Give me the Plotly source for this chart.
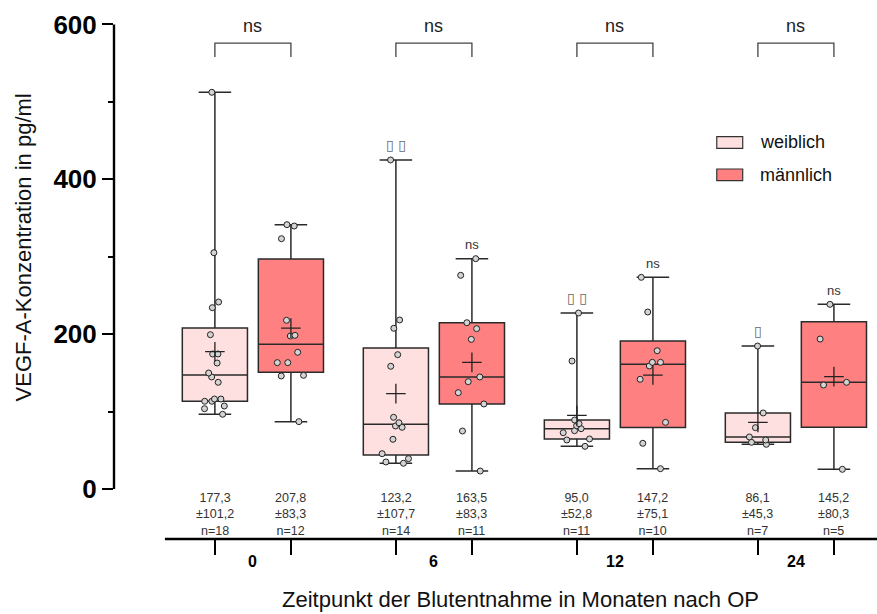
import numpy as np
import plotly.graph_objects as go

# ---------------- data ----------------
months = ["0", "6", "12", "24"]

f_m0 = [512.4, 305.2, 241.5, 234.2, 199.3, 174.4, 174.4, 162.7, 149.8, 144.7,
        137.8, 116.2, 116.2, 113.3, 113.3, 107.2, 103.7, 96.5]
m_m0 = [341.4, 339.7, 323.3, 217.9, 198.5, 197.6, 176.6, 163.2, 163.2, 146.8,
        146.0, 87.0]
f_m6 = [425.0, 218.3, 207.6, 173.5, 158.5, 92.6, 85.6, 81.4, 79.7, 64.2, 45.6,
        39.2, 34.9, 33.2]
m_m6 = [297.5, 276.0, 214.8, 207.1, 193.3, 144.7, 138.6, 124.4, 109.8, 74.9, 23.2]
f_m12 = [227.3, 165.3, 89.1, 84.4, 81.8, 77.9, 75.3, 72.7, 64.6, 63.3, 55.1]
m_m12 = [273.4, 228.6, 178.6, 163.6, 163.6, 158.9, 141.7, 86.1, 59.0, 26.2]
f_m24 = [184.7, 98.2, 79.2, 67.2, 63.3, 60.3, 57.7]
m_m24 = [238.5, 193.7, 137.8, 134.3, 25.4]

mean_f = [177.3, 123.2, 95.0, 86.1]
sd_f = [101.2, 107.7, 52.8, 45.3]
n_f = [18, 14, 11, 7]
mean_m = [207.8, 163.5, 147.2, 145.2]
sd_m = [83.3, 83.3, 75.1, 80.3]
n_m = [12, 11, 10, 5]

sig_f = ["", "\u25af \u25af", "\u25af \u25af", "\u25af"]
sig_m = ["", "ns", "ns", "ns"]
sig_pair = ["ns", "ns", "ns", "ns"]

female = [f_m0, f_m6, f_m12, f_m24]
male = [m_m0, m_m6, m_m12, m_m24]

# ---------------- style ----------------
FONT = "Liberation Sans, Arial, sans-serif"
COL_F = "#FFE0E0"
COL_M = "#FF8080"
LINE = "#2a2a2a"
OFF = 0.21
BW = 0.36

fig = go.Figure()


def fmt(v):
    return f"{v:.1f}".replace(".", ",")


def add_group(pos, vals, fill):
    q1, med, q3 = np.quantile(vals, [0.25, 0.5, 0.75], method="weibull")
    fig.add_trace(go.Box(
        x=[pos], q1=[q1], median=[med], q3=[q3],
        lowerfence=[min(vals)], upperfence=[max(vals)],
        width=BW, whiskerwidth=0.5, fillcolor=fill,
        line=dict(color=LINE, width=1.5), boxpoints=False,
        showlegend=False, hoverinfo="skip"))
    fig.add_trace(go.Box(
        x=[pos] * len(vals), y=vals, boxpoints="all", jitter=0.5, pointpos=0,
        width=BW, fillcolor="rgba(0,0,0,0)",
        line=dict(color="rgba(0,0,0,0)", width=0),
        marker=dict(size=6, color="#d4d4d4", line=dict(color="#222", width=1)),
        showlegend=False, hoverinfo="skip"))


pos_f = [g - OFF for g in range(len(months))]
pos_m = [g + OFF for g in range(len(months))]

for g in range(len(months)):
    add_group(pos_f[g], female[g], COL_F)
    add_group(pos_m[g], male[g], COL_M)

fig.add_trace(go.Scatter(
    x=pos_f + pos_m, y=mean_f + mean_m, mode="markers",
    marker=dict(symbol="cross-thin", size=14, line=dict(width=1.3, color="#222")),
    showlegend=False, hoverinfo="skip"))

ann = []
shapes = []

for g in range(len(months)):
    for p, mu, sd, n in ((pos_f[g], mean_f[g], sd_f[g], n_f[g]),
                         (pos_m[g], mean_m[g], sd_m[g], n_m[g])):
        ann.append(dict(x=p, y=-33, xref="x", yref="y",
                        text=f"{fmt(mu)}<br>±{fmt(sd)}<br>n={n}",
                        showarrow=False, yanchor="middle",
                        font=dict(family=FONT, size=12.5, color="#333")))
    ann.append(dict(x=g, y=-0.0416, xref="x", yref="paper", text=months[g],
                    showarrow=False, yanchor="middle", xanchor="center",
                    font=dict(family=FONT, size=16, color="black", weight="bold")))
    if sig_f[g]:
        ann.append(dict(x=pos_f[g], y=max(female[g]), xref="x", yref="y", text=sig_f[g],
                        showarrow=False, yshift=15, yanchor="middle",
                        font=dict(family="DejaVu Sans", size=14, color="#666")))
    if sig_m[g]:
        ann.append(dict(x=pos_m[g], y=max(male[g]), xref="x", yref="y", text=sig_m[g],
                        showarrow=False, yshift=14, yanchor="middle",
                        font=dict(family=FONT, size=13, color="#333")))
    shapes.append(dict(type="path", xref="x", yref="y",
                       path=f"M {pos_f[g]} 558 L {pos_f[g]} 576 L {pos_m[g]} 576 L {pos_m[g]} 558",
                       line=dict(color="#444", width=1.3)))
    ann.append(dict(x=g, y=598, xref="x", yref="y", text=sig_pair[g], showarrow=False,
                    yanchor="middle",
                    font=dict(family=FONT, size=18, color="#222")))

shapes.append(dict(type="line", xref="paper", yref="y", x0=0, x1=0, y0=0, y1=600,
                   line=dict(color="black", width=2.4)))
shapes.append(dict(type="line", xref="x", yref="paper", x0=-0.486, x1=3.5, y0=0, y1=0,
                   line=dict(color="black", width=2.4)))

leg = [("weiblich", COL_F, 0.7605, 0.7386), ("männlich", COL_M, 0.6994, 0.6773)]
for name, col, y1, y0 in leg:
    shapes.append(dict(type="rect", xref="paper", yref="paper", x0=0.79, x1=0.824,
                       y0=y0, y1=y1, fillcolor=col, line=dict(color="#333", width=1.2)))
    ann.append(dict(x=0.844, y=(y0 + y1) / 2, xref="paper", yref="paper", text=name,
                    showarrow=False, xanchor="left", yanchor="middle",
                    font=dict(family=FONT, size=18, color="#111")))

ann.append(dict(x=0.5334, y=-0.115, xref="paper", yref="paper",
                text="Zeitpunkt der Blutentnahme in Monaten nach OP", showarrow=False,
                xanchor="center", yanchor="middle",
                font=dict(family=FONT, size=22, color="#111")))
ann.append(dict(x=-0.1193, y=312, xref="paper", yref="y", textangle=-90,
                text="VEGF-A-Konzentration in pg/ml", showarrow=False,
                xanchor="center", yanchor="middle",
                font=dict(family=FONT, size=22, color="#111")))

fig.update_layout(
    template="none",
    width=877, height=614,
    margin=dict(l=114, r=0, t=10, b=75),
    paper_bgcolor="white", plot_bgcolor="white",
    showlegend=False,
    boxmode="overlay",
    annotations=ann, shapes=shapes,
    xaxis=dict(range=[-0.7674, 3.448], showgrid=False, zeroline=False, showline=False,
               tickmode="array", tickvals=pos_f + pos_m, ticktext=[""] * 8,
               ticks="outside", ticklen=15, tickwidth=2.4, tickcolor="black",
               automargin=False, fixedrange=True),
    yaxis=dict(range=[-64.6, 618.7], showgrid=False, zeroline=False, showline=False,
               tickmode="array", tickvals=[0, 200, 400, 600],
               ticks="outside", ticklen=11, tickwidth=2.4, tickcolor="black",
               tickfont=dict(family=FONT, size=26, color="black", weight="bold"),
               minor=dict(tickmode="linear", tick0=0, dtick=100, ticks="outside",
                          ticklen=5, tickwidth=2.4, tickcolor="black", showgrid=False),
               automargin=False, fixedrange=True),
)

fig.write_html("out.html")
